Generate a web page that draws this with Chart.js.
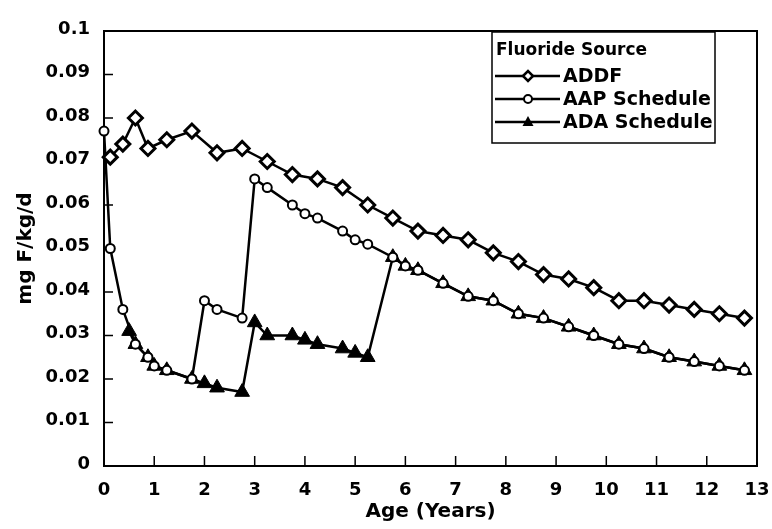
<!DOCTYPE html>
<html>
<head>
<meta charset="utf-8">
<script src="https://cdn.jsdelivr.net/npm/chart.js@4.4.0/dist/chart.umd.min.js"></script>
<style>
  html, body { margin: 0; padding: 0; background: #fff; }
  #wrap { width: 772px; height: 529px; }
</style>
</head>
<body>
<div id="wrap"><canvas id="fluorideChart" width="772" height="529"></canvas></div>
<script>
// values (age in years, mg F/kg/d)
const addfAges = [0.125, 0.375, 0.625, 0.875, 1.25, 1.75, 2.25, 2.75, 3.25, 3.75, 4.25, 4.75, 5.25, 5.75,
  6.25, 6.75, 7.25, 7.75, 8.25, 8.75, 9.25, 9.75, 10.25, 10.75, 11.25, 11.75, 12.25, 12.75];
const addfValues = [0.071, 0.074, 0.080, 0.073, 0.075, 0.077, 0.072, 0.073, 0.070, 0.067, 0.066, 0.064, 0.060, 0.057,
  0.054, 0.053, 0.052, 0.049, 0.047, 0.044, 0.043, 0.041, 0.038, 0.038, 0.037, 0.036, 0.035, 0.034];

const aapAges = [0, 0.125, 0.375, 0.625, 0.875, 1.0, 1.25, 1.75, 2.0, 2.25, 2.75, 3.0, 3.25, 3.75, 4.0, 4.25, 4.75,
  5.0, 5.25, 5.75, 6.0, 6.25, 6.75, 7.25, 7.75, 8.25, 8.75, 9.25, 9.75, 10.25, 10.75, 11.25, 11.75, 12.25, 12.75];
const aapValues = [0.077, 0.050, 0.036, 0.028, 0.025, 0.023, 0.022, 0.020, 0.038, 0.036, 0.034, 0.066, 0.064, 0.060, 0.058, 0.057, 0.054,
  0.052, 0.051, 0.048, 0.046, 0.045, 0.042, 0.039, 0.038, 0.035, 0.034, 0.032, 0.030, 0.028, 0.027, 0.025, 0.024, 0.023, 0.022];

const adaAges = [0.5, 0.625, 0.875, 1.0, 1.25, 1.75, 2.0, 2.25, 2.75, 3.0, 3.25, 3.75, 4.0, 4.25, 4.75,
  5.0, 5.25, 5.75, 6.0, 6.25, 6.75, 7.25, 7.75, 8.25, 8.75, 9.25, 9.75, 10.25, 10.75, 11.25, 11.75, 12.25, 12.75];
const adaValues = [0.031, 0.028, 0.025, 0.023, 0.022, 0.020, 0.019, 0.018, 0.017, 0.033, 0.030, 0.030, 0.029, 0.028, 0.027,
  0.026, 0.025, 0.048, 0.046, 0.045, 0.042, 0.039, 0.038, 0.035, 0.034, 0.032, 0.030, 0.028, 0.027, 0.025, 0.024, 0.023, 0.022];

const seriesNames = ['ADDF', 'AAP Schedule', 'ADA Schedule'];
const legendTitle = 'Fluoride Source';
const xTitle = 'Age (Years)';
const yTitle = 'mg F/kg/d';

const FONT = "'DejaVu Sans', 'Liberation Sans', Arial, sans-serif";

function toPoints(xs, ys) {
  return xs.map((x, i) => ({ x: x, y: ys[i] }));
}

// frame round the plot plus small inward tick marks
const framePlugin = {
  id: 'frame',
  beforeDatasetsDraw(chart) {
    const { ctx, chartArea: a, scales } = chart;
    ctx.save();
    ctx.strokeStyle = '#000';
    ctx.lineWidth = 2;
    ctx.strokeRect(a.left, a.top, a.right - a.left, a.bottom - a.top);
    ctx.lineWidth = 1.5;
    ctx.beginPath();
    scales.x.ticks.forEach(t => {
      const px = scales.x.getPixelForValue(t.value);
      ctx.moveTo(px, a.bottom);
      ctx.lineTo(px, a.bottom - 10);
    });
    scales.y.ticks.forEach(t => {
      const py = scales.y.getPixelForValue(t.value);
      ctx.moveTo(a.left, py);
      ctx.lineTo(a.left + 9, py);
    });
    ctx.stroke();
    ctx.restore();
  }
};

// boxed legend in the upper right corner
const legendPlugin = {
  id: 'boxLegend',
  afterDraw(chart) {
    const { ctx, chartArea: a } = chart;
    const left = a.right - 265, top = a.top + 1, w = 223, h = 111;
    ctx.save();
    ctx.fillStyle = '#fff';
    ctx.fillRect(left, top, w, h);
    ctx.strokeStyle = '#000';
    ctx.lineWidth = 1.5;
    ctx.strokeRect(left, top, w, h);

    ctx.fillStyle = '#000';
    ctx.textBaseline = 'middle';
    ctx.font = 'bold 17px ' + FONT;
    ctx.fillText(legendTitle, left + 4, top + 19);

    ctx.font = 'bold 19px ' + FONT;
    chart.data.datasets.forEach((ds, i) => {
      const y = top + 44 + i * 23;
      const x0 = left + 3, x1 = left + 68, mx = left + 36;
      ctx.lineWidth = 2.5;
      ctx.beginPath();
      ctx.moveTo(x0, y);
      ctx.lineTo(x1, y);
      ctx.stroke();
      ctx.beginPath();
      if (ds.pointStyle === 'rectRot') {
        ctx.moveTo(mx - 5, y); ctx.lineTo(mx, y - 5); ctx.lineTo(mx + 5, y); ctx.lineTo(mx, y + 5);
        ctx.closePath();
        ctx.fillStyle = '#fff'; ctx.fill();
        ctx.lineWidth = 2.5; ctx.stroke();
      } else if (ds.pointStyle === 'circle') {
        ctx.arc(mx, y, 4, 0, Math.PI * 2);
        ctx.fillStyle = '#fff'; ctx.fill();
        ctx.lineWidth = 2; ctx.stroke();
      } else {
        ctx.moveTo(mx, y - 6); ctx.lineTo(mx + 5.5, y + 4); ctx.lineTo(mx - 5.5, y + 4);
        ctx.closePath();
        ctx.fillStyle = '#000'; ctx.fill();
      }
      ctx.fillStyle = '#000';
      ctx.fillText(ds.label, left + 71, y + 1);
    });
    ctx.restore();
  }
};

new Chart(document.getElementById('fluorideChart'), {
  type: 'line',
  data: {
    datasets: [
      {
        label: seriesNames[0],
        data: toPoints(addfAges, addfValues),
        borderColor: '#000',
        borderWidth: 2.5,
        pointStyle: 'rectRot',
        pointRadius: 7,
        pointBorderWidth: 3,
        pointBackgroundColor: '#fff',
        pointBorderColor: '#000',
        clip: false
      },
      {
        label: seriesNames[1],
        data: toPoints(aapAges, aapValues),
        borderColor: '#000',
        borderWidth: 2.5,
        pointStyle: 'circle',
        pointRadius: 4.5,
        pointBorderWidth: 2,
        pointBackgroundColor: '#fff',
        pointBorderColor: '#000',
        clip: false
      },
      {
        label: seriesNames[2],
        data: toPoints(adaAges, adaValues),
        borderColor: '#000',
        borderWidth: 2.5,
        pointStyle: 'triangle',
        pointRadius: 8.5,
        pointBorderWidth: 1,
        pointBackgroundColor: '#000',
        pointBorderColor: '#000',
        clip: false
      }
    ]
  },
  options: {
    responsive: false,
    animation: false,
    layout: { padding: { top: 31, right: 15, left: 0, bottom: 0 } },
    plugins: {
      legend: { display: false },
      tooltip: { enabled: false }
    },
    scales: {
      x: {
        type: 'linear',
        min: 0,
        max: 13,
        grid: { display: false },
        border: { display: false },
        ticks: {
          stepSize: 1,
          color: '#000',
          padding: 6,
          font: { family: FONT, size: 18, weight: 'bold' }
        },
        title: {
          display: true,
          text: xTitle,
          color: '#000',
          padding: { top: 0, bottom: 5 },
          font: { family: FONT, size: 20, weight: 'bold' }
        },
        afterFit(scale) {
          scale.height = 63;
          scale.paddingRight = 0;
        }
      },
      y: {
        min: 0,
        max: 0.1,
        grid: { display: false },
        border: { display: false },
        ticks: {
          stepSize: 0.01,
          color: '#000',
          padding: 6,
          labelOffset: -2,
          font: { family: FONT, size: 18, weight: 'bold' },
          callback: v => String(Number(v.toFixed(2)))
        },
        title: {
          display: true,
          text: yTitle,
          color: '#000',
          padding: { top: 14, bottom: 0 },
          font: { family: FONT, size: 20, weight: 'bold' }
        },
        afterFit(scale) { scale.width = 104; }
      }
    }
  },
  plugins: [framePlugin, legendPlugin]
});
</script>
</body>
</html>
